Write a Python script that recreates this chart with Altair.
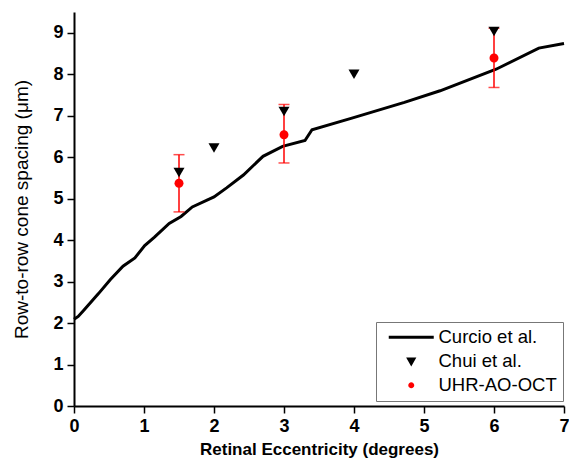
import altair as alt
import pandas as pd

# Curcio et al. curve
curcio_x = [0.0, 0.06, 0.14, 0.35, 0.52, 0.70, 0.87, 1.01, 1.15, 1.36, 1.53, 1.69, 2.0,
            2.18, 2.42, 2.70, 2.98, 3.30, 3.40, 3.97, 4.72, 5.23, 6.03, 6.64, 7.0]
curcio_y = [2.09, 2.16, 2.31, 2.71, 3.05, 3.37, 3.57, 3.87, 4.07, 4.40, 4.57, 4.80, 5.04,
            5.26, 5.57, 6.02, 6.26, 6.40, 6.66, 6.94, 7.32, 7.60, 8.12, 8.63, 8.74]

# Chui et al.
chui_x = [1.5, 2.0, 3.0, 4.0, 6.0]
chui_y = [5.63, 6.22, 7.10, 8.00, 9.03]

# UHR-AO-OCT
uhr_x = [1.5, 3.0, 6.0]
uhr_y = [5.37, 6.54, 8.39]
uhr_lo = [4.68, 5.86, 7.68]
uhr_hi = [6.06, 7.27, 9.11]

series = ["Curcio et al.", "Chui et al.", "UHR-AO-OCT"]
x_ticks = [i * 0.5 for i in range(15)]
y_ticks = [i * 0.5 for i in range(20)]

FONT = "Liberation Sans"

# symbol shapes (unit paths, scaled by sqrt(size)/2)
LINE_SYM = "M-4.5,0L4.5,0"
TRI_SYM = "M-0.5,-0.43L0.5,-0.43L0,0.43Z"
CIRC_SYM = "M0.3,0A0.3,0.3,0,1,1,-0.3,0A0.3,0.3,0,1,1,0.3,0Z"

curcio = pd.DataFrame({"x": curcio_x, "y": curcio_y, "s": series[0]})
chui = pd.DataFrame({"x": chui_x, "y": chui_y, "s": series[1]})
uhr = pd.DataFrame({"x": uhr_x, "y": uhr_y, "lo": uhr_lo, "hi": uhr_hi, "s": series[2]})

xs = alt.Scale(domain=[0, 7], nice=False, zero=False)
ys = alt.Scale(domain=[0, 9.5], nice=False)

major = "datum.value % 1 === 0"
lab = f"{major} ? '' + datum.value : ''"
tsize = {"condition": {"test": major, "value": 7}, "value": 4}

xaxis = alt.Axis(values=x_ticks, labelExpr=lab, tickSize=tsize,
                 title="Retinal Eccentricity (degrees)", titleFontWeight="bold",
                 titleFontSize=17, titlePadding=6)
yaxis = alt.Axis(values=y_ticks, labelExpr=lab, tickSize=tsize,
                 title="Row-to-row cone spacing (μm)", titleFontWeight="normal",
                 titleFontSize=19, titlePadding=21)

color = alt.Color("s:N", scale=alt.Scale(domain=series, range=["black", "black", "red"]),
                  legend=alt.Legend(
                      title=None, orient="none", legendX=302, legendY=310,
                      strokeColor="#777", fillColor="white", padding=6,
                      labelFont=FONT, labelFontSize=18.5, labelColor="black",
                      labelOffset=18, symbolOffset=20, rowPadding=5,
                      symbolStrokeWidth=3, symbolSize=100))
shape = alt.Shape("s:N", scale=alt.Scale(domain=series, range=[LINE_SYM, TRI_SYM, CIRC_SYM]))

line = alt.Chart(curcio).mark_line(strokeWidth=3).encode(
    x=alt.X("x:Q", scale=xs, axis=xaxis),
    y=alt.Y("y:Q", scale=ys, axis=yaxis),
    color=color,
)

err = alt.Chart(uhr).mark_rule(color="red", strokeWidth=1.5).encode(
    x="x:Q", y="lo:Q", y2="hi:Q")
cap_lo = alt.Chart(uhr).mark_tick(color="red", thickness=1.5, size=11, orient="horizontal").encode(
    x="x:Q", y="lo:Q")
cap_hi = alt.Chart(uhr).mark_tick(color="red", thickness=1.5, size=11, orient="horizontal").encode(
    x="x:Q", y="hi:Q")

uhr_pts = alt.Chart(uhr).mark_point(filled=True, opacity=1, size=900).encode(
    x="x:Q", y="y:Q", color=color, shape=shape)
chui_pts = alt.Chart(chui).mark_point(filled=True, opacity=1, size=484).encode(
    x="x:Q", y="y:Q", color=color, shape=shape)

chart = alt.layer(line, err, cap_lo, cap_hi, uhr_pts, chui_pts).properties(
    width=490, height=394,
    autosize=alt.AutoSizeParams(type="none"),
    padding={"left": 66, "top": 4, "right": 5, "bottom": 55},
).configure_view(stroke=None).configure_axis(
    labelFont=FONT, labelFontSize=18, labelFontWeight="bold", labelColor="black",
    labelPadding=4, labelOverlap=False, labelFlush=False,
    titleFont=FONT, titleColor="black",
    domainColor="black", domainWidth=2, tickColor="black", tickWidth=1.5, grid=False,
)

chart.save("out.html", embed_options={"renderer": "svg", "actions": False})
